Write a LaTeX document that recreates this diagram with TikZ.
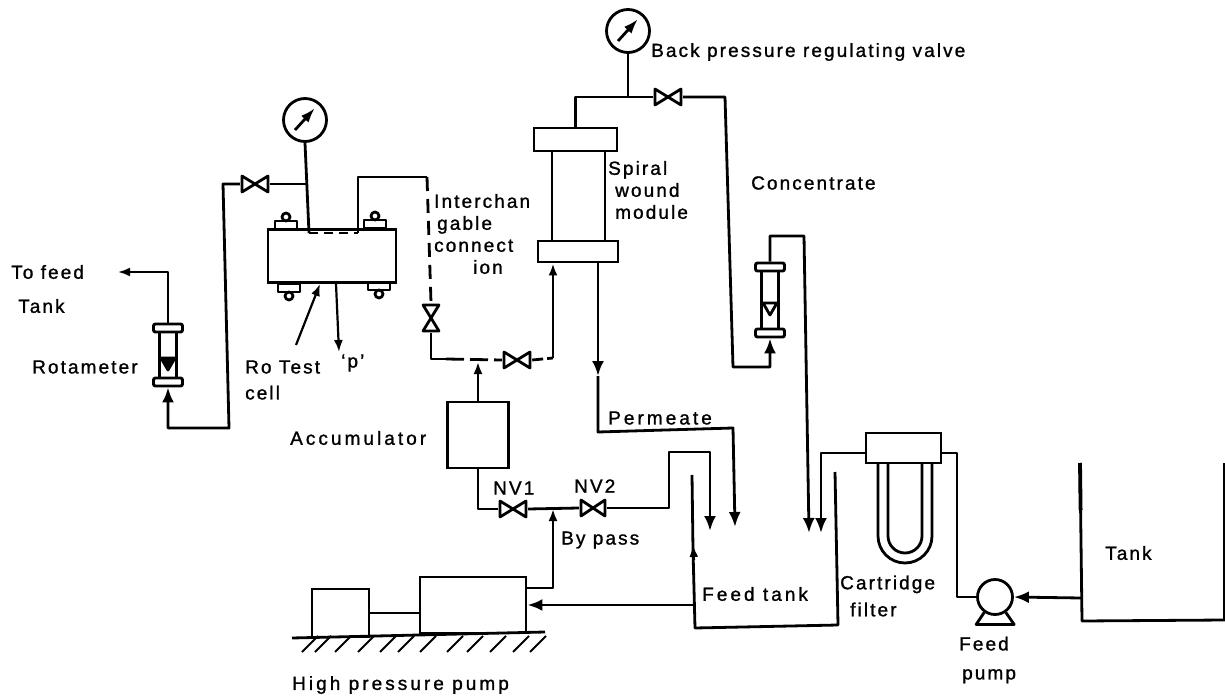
\documentclass[tikz,border=0pt]{standalone}
\usepackage{fontspec}
\setmainfont[LetterSpace=11,FakeBold=1.2]{Liberation Sans}
\usetikzlibrary{arrows.meta,positioning}
\tikzset{pipe/.style={line width=2.8pt,line join=round},flow/.style={pipe,-{Latex[length=15pt,width=12pt]}},tip/.style={line width=2.2pt,line join=round,-{Latex[length=12pt,width=9pt]}},
unit/.style={draw,line width=2.9pt,fill=white,inner sep=0pt},lbl/.style={font=\fontsize{19}{22}\selectfont,anchor=west,inner sep=0pt,align=left},wide/.style={font=\fontsize{19}{22}\selectfont\addfontfeature{LetterSpace=16}},
gauge/.style={circle,draw,line width=2.8pt,minimum size=43pt,inner sep=0pt,path picture={\draw[line width=2.8pt,-{Latex[length=15pt,width=10pt]}] ([shift={(-10pt,-10pt)}]path picture bounding box.center)--([shift={(10pt,12pt)}]path picture bounding box.center);}},
valve/.style={minimum width=30pt,minimum height=20pt,inner sep=0pt,path picture={\draw[pipe] ([shift={(2pt,-2pt)}]path picture bounding box.north west)--([shift={(-2pt,2pt)}]path picture bounding box.south east)--([shift={(-2pt,-2pt)}]path picture bounding box.north east)--([shift={(2pt,2pt)}]path picture bounding box.south west)--cycle;}},
vvalve/.style={minimum width=20pt,minimum height=30pt,inner sep=0pt,path picture={\draw[pipe] ([shift={(2pt,-2pt)}]path picture bounding box.north west)--([shift={(-2pt,-2pt)}]path picture bounding box.north east)--([shift={(2pt,2pt)}]path picture bounding box.south west)--([shift={(-2pt,2pt)}]path picture bounding box.south east)--cycle;}},
pics/bolt/.style={code={\draw[pipe] (-11,0) rectangle (11,-8);\draw[pipe] (0,-12) circle (4);}},
pics/rotameter/.style 2 args={code={\draw[pipe] (-8.5,{-#1/2}) -- (-8.5,{#1/2}) (8.5,{-#1/2}) -- (8.5,{#1/2});\draw[pipe,fill=#2] (-7,3) -- (7,3) -- (0,15) -- cycle;
\node[unit,rounded corners=2pt,minimum width=29pt,minimum height=8pt] (-top) at (0,{-#1/2+4}) {};\node[unit,rounded corners=2pt,minimum width=29pt,minimum height=8pt] (-bot) at (0,{#1/2-4}) {};}}}
\begin{document}
\begin{tikzpicture}[x=1pt,y=-1pt]
\useasboundingbox (0,0) rectangle (1225,700);
% instruments and vessels
\node[gauge] (gaugea) at (305,120) {};
\node[gauge] (gaugeb) at (628,31) {};
\node[valve] (valvea) at (255,184) {};
\node[valve] (valveb) at (517,360) {};
\node[valve] (valvec) at (513,509) {};
\node[valve,minimum width=28pt] (valved) at (593,508) {};
\node[valve] (valvee) at (668,97) {};
\node[vvalve] (valvev) at (431,318) {};
\node[unit,minimum width=128pt,minimum height=53pt] (cell) at (332,256) {};
\pic at (286,229) {bolt};
\pic at (375,228) {bolt};
\pic[yscale=-1] at (289,284) {bolt};
\pic[yscale=-1] at (379,282) {bolt};
\pic (rotaa) at (168,355) {rotameter={62}{black}};
\pic (rotab) at (770,300) {rotameter={74}{white}};
\node[unit,minimum width=83pt,minimum height=23pt] (capa) at (575.5,139.5) {};
\node[unit,minimum width=80pt,minimum height=21pt] (capb) at (578,251.5) {};
\node[unit,minimum width=61pt,minimum height=66pt] (accum) at (478,435) {};
\node[unit,minimum width=57pt,minimum height=48pt] (motor) at (340.5,613) {};
\node[unit,minimum width=106pt,minimum height=56pt] (pumpb) at (473,605) {};
\draw[pipe] (878,463) -- (878,536) arc[start angle=180,end angle=0,radius=27] -- (932,463);
\draw[pipe] (888,463) -- (888,536) arc[start angle=180,end angle=0,radius=17] -- (922,463);
\node[unit,minimum width=75pt,minimum height=30pt] (filter) at (903.5,448) {};
\node[circle,draw,line width=2.8pt,minimum size=35pt,inner sep=0pt] (pumpc) at (995,597) {};
\draw[pipe] (pumpc.235) -- ++(-8,12) -- ++(38,0) -- (pumpc.305);
% open tanks
\draw[pipe] (692,475) -- (693,550);
\draw[tip] (694,560) -- (693,545);
\draw[pipe] (693,550) -- (695,628) -- (838,625) -- (835,472);
\draw[pipe] (1080,463) -- (1082,621) -- (1225,620);
\draw[line width=3.8pt] (1080,463) -- (1080.6,510);
\draw[pipe] (1224,463) -- (1224,620);
% ground under the pump
\coordinate (gnda) at (292,638);
\coordinate (gndb) at (545,632);
\draw[pipe] (gnda) -- (gndb);
\foreach \x in {302,315,335,358,380,398,420,447,467,490,513,530}
  \draw[line width=2pt] (\x,652) -- ++(16,-16);
% module
\draw[pipe] ([xshift=-23.5pt]capa.south) -- ([xshift=-26pt]capb.north);
\draw[pipe] ([xshift=29.5pt]capa.south) -- ([xshift=27pt]capb.north);
% test cell loop
\coordinate (stema) at (309,233);
\coordinate (stemb) at (358,233);
\coordinate (teea) at (307,184);
\coordinate (benda) at (223,184);
\coordinate (bendb) at (229,428);
\coordinate (tofeed) at (118,272);
\coordinate (interb) at (427,177);
\coordinate (dasha) at (446,359);
\coordinate (bendc) at (553,358);
\coordinate (teeb) at (478,362);
\coordinate (roend) at (296,345);
\coordinate (pout) at (339,352);
\draw[pipe] (gaugea.south) -- (stema);
\draw[pipe,dash pattern=on 9pt off 6pt] (stema) -- (stemb);
\draw[pipe] (valvea.east) -- (teea);
\draw[flow] (valvea.west) -- (benda) -- (bendb) -| (rotaa-bot.south);
\draw[tip] (rotaa-top.north) |- (tofeed);
\draw[pipe] (stemb) |- (interb);
\draw[pipe,dash pattern=on 14pt off 8pt] (interb) -- (valvev.north);
\draw[pipe] (valvev.south) |- (dasha);
\draw[pipe,dash pattern=on 18pt off 6pt] (dasha) -- (valveb.west);
\draw[pipe,dash pattern=on 11pt off 4pt] (valveb.east) -- (bendc);
\draw[tip,line width=2.8pt] (bendc) -- (capb.south -| bendc);
\draw[tip,line width=2.8pt] (accum.north) -- (teeb);
\draw[tip] (roend) -- ([xshift=-12pt]cell.south);
\draw[tip] ([xshift=4pt]cell.south) -- (pout);
% pump and feed lines
\coordinate (hpout) at (526,588);
\coordinate (teec) at (553,509);
\coordinate (walltee) at (694,605);
\coordinate (bendd) at (669,452);
\coordinate (feedb) at (710,531);
\draw[pipe] (accum.south) |- (valvec.west);
\draw[pipe] (valvec.east) -- (valved.west);
\draw[flow] (valved.east) -| (bendd) -| (feedb);
\draw[tip,line width=2.8pt] (hpout) -| (teec);
\draw[flow] (walltee) -- (pumpb.east);
\draw[pipe] (motor.east) -- (motor.east -| pumpb.west);
% module outlets
\coordinate (bendg) at (725,97);
\coordinate (bendh) at (733,367);
\coordinate (bendi) at (804,236);
\coordinate (feedd) at (809,533);
\coordinate (permm) at (598,376);
\coordinate (permb) at (598,432);
\coordinate (permc) at (733,428);
\coordinate (feeda) at (735,527);
\draw[pipe] (gaugeb.south) -- (gaugeb.south |- valvee);
\draw[pipe] (capa.north) |- (valvee.west);
\draw[flow] (valvee.east) -- (bendg) -- (bendh) -| (rotab-bot.south);
\draw[flow] (rotab-top.north) |- (bendi) -- (feedd);
\draw[flow] (capb.south -| permb) -- (permm);
\draw[flow] (permm) -- (permb) -- (permc) -- (feeda);
% filter and feed pump
\coordinate (bende) at (957,597);
\coordinate (feedc) at (821,533);
\coordinate (tankout) at (1081,598);
\draw[flow] ([yshift=-5pt]filter.west) -| (feedc);
\draw[pipe] ([yshift=-5pt]filter.east) -| (bende) -- (pumpc.west);
\draw[flow] (tankout) -- (pumpc.east);
% labels
\node[lbl] (lblback) at (651,52) {Back pressure regulating valve};
\node[lbl] (lblconc) at (751,183) {Concentrate};
\node[lbl] (lblspiral) at (608,190) {Spiral\\\hspace*{7pt}wound\\\hspace*{7pt}module};
\node[lbl] (lblinter) at (434,234) {Interchan\\\hspace*{3pt}gable\\connect\\\hspace*{39pt}ion};
\node[lbl] (lblfeedto) at (11,289) {To feed\\[12pt]\hspace*{7pt}Tank};
\node[lbl] (lblrota) at (32,367) {Rotameter};
\node[lbl] (lblro) at (245,380) {Ro Test\\[4pt]cell};
\node[lbl] (lblp) at (341,363) {`p'};
\node[lbl,wide] (lblaccum) at (290,438) {Accumulator};
\node[lbl,wide] (lblperm) at (608,418) {Permeate};
\node[lbl] (lblnva) at (493,488) {NV1};
\node[lbl] (lblnvb) at (574,486) {NV2};
\node[lbl] (lblby) at (561,540) {By pass};
\node[lbl,wide] (lblfeed) at (702,594) {Feed tank};
\node[lbl] (lblcart) at (840,596) {Cartridge\\[5pt]\hspace*{10pt}filter};
\node[lbl] (lblpump) at (959,660) {Feed\\[7pt]\hspace*{3pt}pump};
\node[lbl] (lbltank) at (1105,553) {Tank};
\node[lbl,wide] (lblhigh) at (292,685) {High pressure pump};
\end{tikzpicture}
\end{document}
